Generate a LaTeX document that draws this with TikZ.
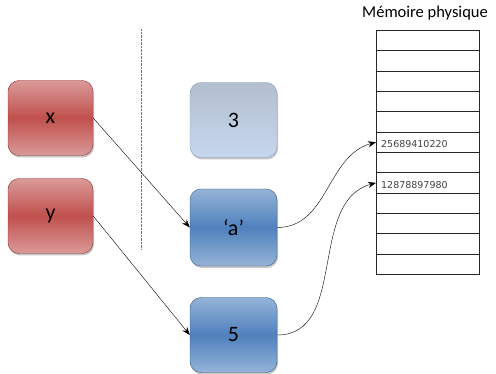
\documentclass[tikz,border=0pt]{standalone}
\usepackage{fontspec}
\setmainfont{Carlito}
\newfontfamily\numfont{DejaVu Sans}
\usetikzlibrary{arrows.meta,shadows}

\definecolor{redlight}{HTML}{DA9A98}
\definecolor{redmid}{HTML}{C0504D}
\definecolor{redline}{HTML}{8C3836}
\definecolor{bluelight}{HTML}{95B3D7}
\definecolor{bluemid}{HTML}{4F81BD}
\definecolor{blueline}{HTML}{385D8A}
\definecolor{paletop}{HTML}{B3BECE}
\definecolor{palebot}{HTML}{C6D7EE}
\definecolor{paleline}{HTML}{8EA3C0}

\begin{document}
\begin{tikzpicture}[x=1pt,y=-1pt,
    box/.style={rounded corners=11pt, minimum width=85pt, minimum height=75pt,
      inner sep=0pt, font=\fontsize{22}{24}\selectfont,
      drop shadow={shadow xshift=1pt, shadow yshift=-2pt, opacity=0.45}},
    varbox/.style={box, draw=redline, top color=redlight, bottom color=redlight, middle color=redmid},
    valbox/.style={box, minimum width=87pt, draw=blueline, top color=bluelight, bottom color=bluelight, middle color=bluemid},
    oldbox/.style={box, minimum width=87pt, draw=paleline, top color=paletop, bottom color=palebot},
    cell/.style={draw=black!85, thick, minimum width=103pt, minimum height=20.33pt, inner sep=0pt, anchor=north west},
    addr/.style={font=\numfont\fontsize{9.5}{10}\selectfont, text=black!75, anchor=west, inner sep=0pt},
    link/.style={-{Stealth[length=8pt,width=6pt]}, black}]
  \useasboundingbox (0,0) rectangle (496,374);
  % dotted separator
  \coordinate (septop) at (141,29);
  \coordinate (sepbot) at (141,250);
  \draw [black!55, densely dotted] (septop) -- (sepbot);
  % variables
  \node [varbox] (x) at (50.5,118) {x};
  \node [varbox] (y) at (50.5,216) {y};
  % values
  \node [oldbox] (three) at (233.5,120) {3};
  \node [valbox, minimum height=77pt] (a) at (233.5,227.5) {\textquoteleft a\textquoteright};
  \node [valbox] (five) at (233.5,335) {5};
  % physical memory
  \node (title) at (425,13) {\fontsize{16.5}{18}\selectfont M\'emoire physique};
  \foreach \i in {1,...,12}
    \node [cell] (m\i) at (376,{30+(\i-1)*20.33}) {};
  \node [addr] (adr1) at ([xshift=5pt,yshift=-2pt]m6.west) {25689410220};
  \node [addr] (adr2) at ([xshift=5pt,yshift=-2pt]m8.west) {12878897980};
  % links
  \draw [link] (x.east) -- (a.west);
  \draw [link] (y.east) -- (five.west);
  \draw [link] (a.east) to[out=0, in=195] (m6.west);
  \draw [link] (five.east) to[out=0, in=195] (m8.west);
\end{tikzpicture}
\end{document}
